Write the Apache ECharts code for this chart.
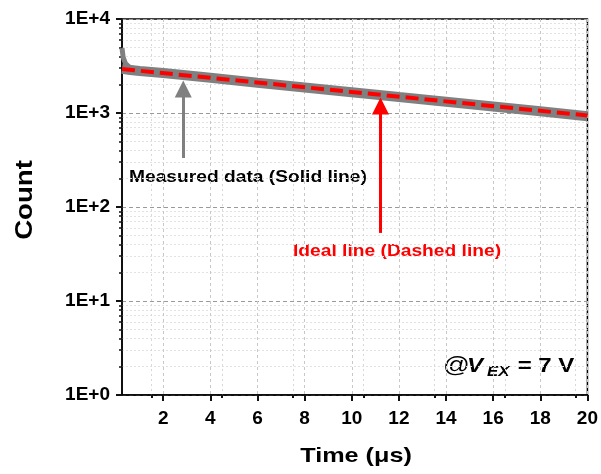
<!DOCTYPE html>
<html>
<head>
<meta charset="utf-8">
<script src="https://cdn.jsdelivr.net/npm/echarts@6/dist/echarts.min.js"></script>
<style>
  html, body { margin: 0; padding: 0; background: #fff; }
  #chart { width: 601px; height: 474px; }
</style>
</head>
<body>
<div id="chart"></div>
<script>
// measured decay (us, counts)
const measuredTime = [0.25, 0.6, 1, 2, 4, 6, 8, 10, 12, 14, 16, 18, 20];
const measuredCount = [2950, 2870, 2800, 2660, 2370, 2100, 1870, 1665, 1480, 1320, 1175, 1045, 925];
// the short burst at the start of the measurement
const spikeTime = [0.25, 0.3, 0.4, 0.55, 0.8];
const spikeCount = [4900, 3900, 3350, 3100, 2950];
// ideal exponential line (straight on the log axis)
const idealTime = [0.25, 20];
const idealCount = [2940, 940];
// x tick labels
const xMajor = [2, 4, 6, 8, 10, 12, 14, 16, 18, 20];
// arrows: [x, from, to]
const grayArrow = [2.85, 332, 1800];
const redArrow = [11.22, 53, 1187];

const font = "'Liberation Sans', Arial, sans-serif";
const tickColor = "#111";
const zip = (a, b) => a.map((v, i) => [v, b[i]]);

let chart = echarts.init(document.getElementById("chart"));

let tickLabel = { color: "#000", fontFamily: font, fontWeight: "bold", fontSize: 19 };

let option = {
  animation: false,
  grid: {
    left: 122,
    right: 11,
    top: 19,
    bottom: 79,
    show: true,
    borderColor: "#000",
    borderWidth: 1.5
  },
  xAxis: {
    type: "value",
    min: 0.25,
    max: 20,
    axisLine: { show: true, lineStyle: { color: "#000", width: 1.5 } },
    axisTick: {
      show: true,
      length: 6,
      customValues: xMajor,
      lineStyle: { color: tickColor, width: 2 }
    },
    minorTick: { show: true, splitNumber: 2, length: 3, lineStyle: { color: tickColor, width: 2 } },
    axisLabel: Object.assign({ customValues: xMajor, margin: 14 }, tickLabel),
    splitLine: { show: true, lineStyle: { color: "#c8c8c8", width: 1, type: [3, 3] } },
    minorSplitLine: { show: true, lineStyle: { color: "#d8d8d8", width: 1, type: [2, 3] } }
  },
  yAxis: {
    type: "log",
    logBase: 10,
    min: 1,
    max: 10000,
    axisLine: { show: true, lineStyle: { color: "#000", width: 1.5 } },
    axisTick: { show: true, length: 6, lineStyle: { color: tickColor, width: 2 } },
    minorTick: { show: true, splitNumber: 9, length: 3, lineStyle: { color: tickColor, width: 1.5 } },
    axisLabel: Object.assign({
      margin: 12,
      formatter: v => "1E+" + Math.round(Math.log10(v))
    }, tickLabel),
    splitLine: { show: true, lineStyle: { color: "#9a9a9a", width: 1, type: [4, 3] } },
    minorSplitLine: { show: true, lineStyle: { color: "#e2e2e2", width: 1, type: [2, 2] } }
  },
  series: [
    {
      name: "Measured spike",
      type: "line",
      symbol: "none",
      z: 3,
      lineStyle: { color: "#808080", width: 5 },
      data: zip(spikeTime, spikeCount)
    },
    {
      name: "Measured data",
      type: "line",
      symbol: "none",
      z: 3,
      lineStyle: { color: "#808080", width: 10 },
      data: zip(measuredTime, measuredCount),
      markLine: {
        silent: true,
        symbol: ["none", "triangle"],
        symbolSize: 17,
        label: { show: false },
        data: [
          [
            { coord: [grayArrow[0], grayArrow[1]], lineStyle: { color: "#808080", width: 3, type: "solid" }, itemStyle: { color: "#808080" } },
            { coord: [grayArrow[0], grayArrow[2]] }
          ],
          [
            { coord: [redArrow[0], redArrow[1]], lineStyle: { color: "#ff0000", width: 3, type: "solid" }, itemStyle: { color: "#ff0000" } },
            { coord: [redArrow[0], redArrow[2]] }
          ]
        ]
      }
    },
    {
      name: "Ideal line",
      type: "line",
      symbol: "none",
      z: 4,
      lineStyle: { color: "#ff0000", width: 4, type: [13, 6] },
      data: zip(idealTime, idealCount)
    }
  ],
  graphic: [
    {
      type: "text", x: 129, y: 178, scaleX: 1.2,
      style: { text: "Measured data (Solid line)", fill: "#000", font: "bold 16px " + font, verticalAlign: "middle" }
    },
    {
      type: "text", x: 293, y: 252, scaleX: 1.2,
      style: { text: "Ideal line (Dashed line)", fill: "#ff0000", font: "bold 16px " + font, verticalAlign: "middle" }
    },
    {
      type: "text", x: 443, y: 366, scaleX: 1.2,
      style: { text: "@", fill: "#000", font: "22px " + font, verticalAlign: "middle" }
    },
    {
      type: "text", x: 467, y: 366, scaleX: 1.2,
      style: { text: "V", fill: "#000", font: "italic bold 20px " + font, verticalAlign: "middle" }
    },
    {
      type: "text", x: 487, y: 372, scaleX: 1.2,
      style: { text: "EX", fill: "#000", font: "italic bold 14px " + font, verticalAlign: "middle" }
    },
    {
      type: "text", x: 511, y: 366, scaleX: 1.2,
      style: { text: " = 7 V", fill: "#000", font: "bold 20px " + font, verticalAlign: "middle" }
    },
    {
      type: "text", x: 26, y: 200, rotation: Math.PI / 2, scaleX: 1.2,
      style: { text: "Count", fill: "#000", font: "bold 23px " + font, align: "center", verticalAlign: "middle" }
    },
    {
      type: "text", x: 356, y: 456, scaleX: 1.2,
      style: { text: "Time (\u03bcs)", fill: "#000", font: "bold 21px " + font, align: "center", verticalAlign: "middle" }
    }
  ]
};

chart.setOption(option, true);
window.addEventListener("resize", () => {
  chart.resize();
});
</script>
</body>
</html>
